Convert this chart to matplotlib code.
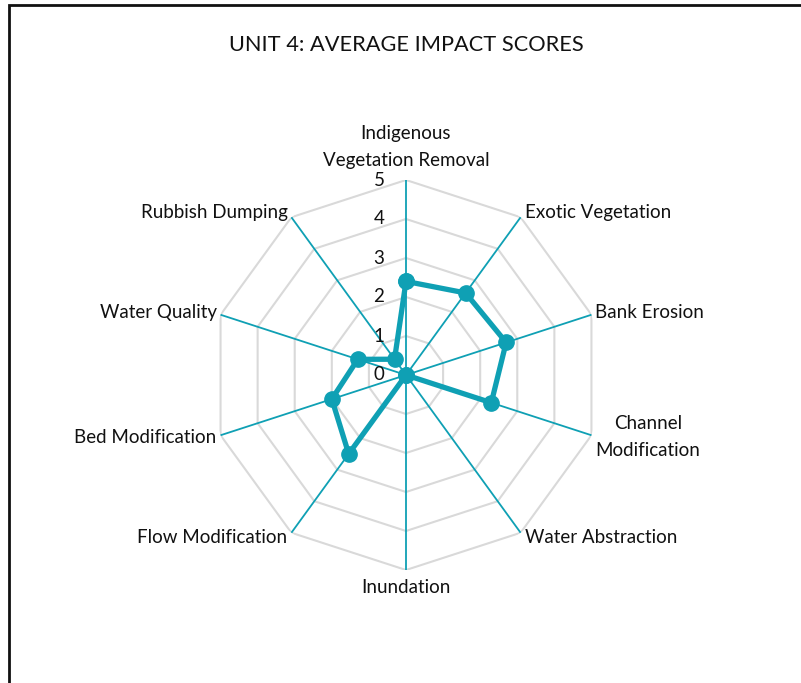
import numpy as np
import matplotlib.pyplot as plt
from matplotlib.patches import Rectangle

categories = ['Indigenous\nVegetation Removal', 'Exotic Vegetation', 'Bank Erosion',
              'Channel\nModification', 'Water Abstraction', 'Inundation',
              'Flow Modification', 'Bed Modification', 'Water Quality', 'Rubbish Dumping']
scores = [2.4, 2.6, 2.7, 2.3, 0.0, 0.0, 2.5, 2.0, 1.3, 0.5]
rings = [1, 2, 3, 4, 5]
tick_labels = ['0', '1', '2', '3', '4', '5']

teal = '#0fa0b4'
grey = '#d9d9d9'
plt.rcParams['font.family'] = ['Lato', 'DejaVu Sans']

fig = plt.figure(figsize=(8.01, 6.83), dpi=100)
fig.patches.append(Rectangle((9/801, -0.1), 1.1, 1 - 5/683 + 0.1, transform=fig.transFigure,
                             fill=False, edgecolor='#111111', linewidth=2))

ax = fig.add_axes([211/801, 113/683, 390/801, 390/683], projection='polar')
ax.set_theta_offset(np.pi / 2)
ax.set_theta_direction(-1)
ax.set_ylim(0, 5)
ax.grid(False)
ax.spines['polar'].set_visible(False)
ax.set_xticks([])
ax.set_yticks([])
ax.patch.set_alpha(0)

n = len(categories)
ang = np.arange(n) * 2 * np.pi / n
ang_c = np.append(ang, ang[0])

# polygon grid
for r in rings:
    ax.plot(ang_c, [r] * (n + 1), color=grey, lw=1.5, zorder=1)
# spokes
for a in ang:
    ax.plot([a, a], [0, 5], color=teal, lw=1.3, zorder=2)

vals = np.append(scores, scores[0])
ax.plot(ang_c, vals, color=teal, lw=3.8, marker='o', markersize=11, zorder=3,
        clip_on=False)

# radial tick labels
for i, t in enumerate(tick_labels):
    ax.annotate(t, xy=(0, i), xytext=(-27, 0), textcoords='offset pixels',
                ha='center', va='center', fontsize=13.5, color='#111111')

# category labels
for a, lab in zip(ang, categories):
    s, c = np.sin(a), np.cos(a)
    if abs(s) < 1e-6:
        ha = 'center'
        va = 'bottom' if c > 0 else 'top'
        off = (0, 11) if c > 0 else (0, -9)
    else:
        ha = 'left' if s > 0 else 'right'
        va = 'center'
        off = (4 * np.sign(s), 6 * c)
    ax.annotate(lab, xy=(a, 5), xytext=off, textcoords='offset pixels',
                ha=ha, va=va, fontsize=13.5, color='#111111',
                multialignment='center', linespacing=1.75, annotation_clip=False)

fig.text(406/801, 1 - 45/683, 'UNIT 4: AVERAGE IMPACT SCORES', ha='center', va='center',
         fontsize=15.7, color='#111111')

fig.savefig('out.png', dpi=100)
